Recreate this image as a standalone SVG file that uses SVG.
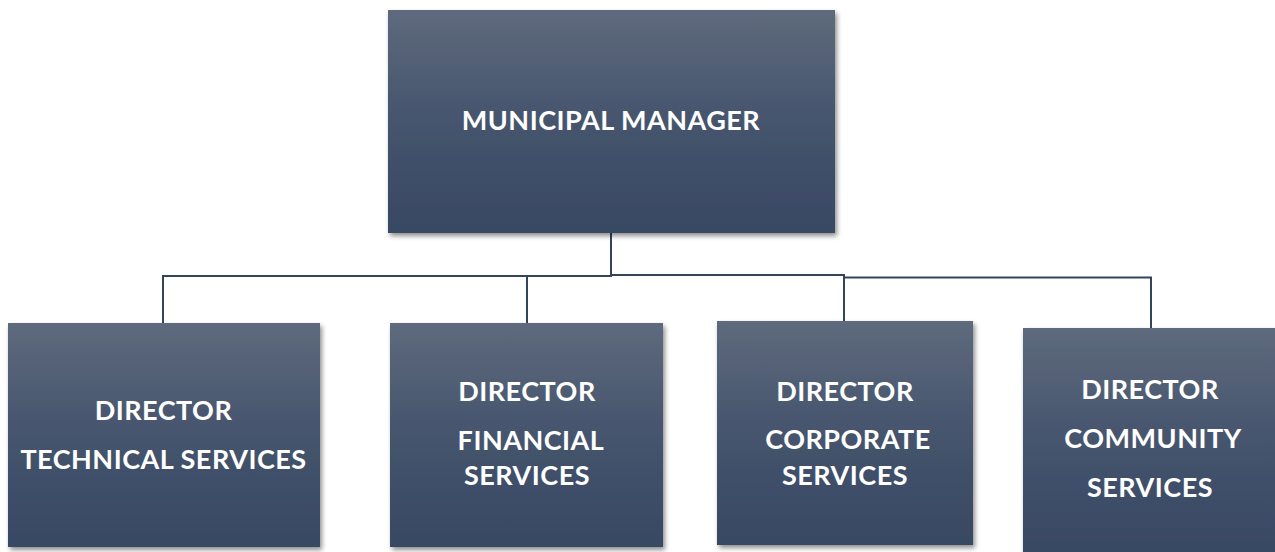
<svg xmlns="http://www.w3.org/2000/svg" width="1275" height="552" viewBox="0 0 1275 552">
<defs>
<linearGradient id="g" x1="0" y1="0" x2="0" y2="1">
<stop offset="0" stop-color="#5e6a7c"/>
<stop offset="0.5" stop-color="#45546d"/>
<stop offset="1" stop-color="#384863"/>
</linearGradient>
<filter id="sh" x="-5%" y="-5%" width="112%" height="115%">
<feGaussianBlur in="SourceAlpha" stdDeviation="2.5"/>
<feOffset dx="2" dy="3" result="b"/>
<feComponentTransfer><feFuncA type="linear" slope="0.45"/></feComponentTransfer>
<feMerge><feMergeNode/><feMergeNode in="SourceGraphic"/></feMerge>
</filter>
</defs>
<style>
.box{fill:url(#g);filter:url(#sh);}
.t{font-family:Lato,"Open Sans","Liberation Sans",sans-serif;font-weight:bold;font-size:27px;letter-spacing:0.5px;fill:#ffffff;text-anchor:middle;}
.c{fill:none;stroke:#34445a;stroke-width:2;}
</style>
<g id="connectors">
<path class="c" d="M611,233 V276 H163 V323"/>
<path class="c" d="M527,276 V323"/>
<path class="c" d="M611,275 H844 V321"/>
<path class="c" d="M844,277.5 H1151 V328" stroke-width="1.5"/>
</g>
<g id="municipal-manager">
<rect class="box" x="388" y="10" width="447" height="223"/>
<text class="t" x="611" y="130">MUNICIPAL MANAGER</text>
</g>
<g id="director-technical">
<rect class="box" x="8" y="323" width="312" height="224"/>
<text class="t" x="163.5" y="420">DIRECTOR</text>
<text class="t" x="163.5" y="469">TECHNICAL SERVICES</text>
</g>
<g id="director-financial">
<rect class="box" x="390" y="323" width="273" height="224"/>
<text class="t" x="527" y="401">DIRECTOR</text>
<text class="t" x="531" y="450">FINANCIAL</text>
<text class="t" x="527" y="485">SERVICES</text>
</g>
<g id="director-corporate">
<rect class="box" x="717" y="321" width="256" height="224"/>
<text class="t" x="845" y="401">DIRECTOR</text>
<text class="t" x="848" y="449">CORPORATE</text>
<text class="t" x="845" y="485">SERVICES</text>
</g>
<g id="director-community">
<rect class="box" x="1023" y="328" width="254" height="226"/>
<text class="t" x="1150" y="399">DIRECTOR</text>
<text class="t" x="1153" y="448">COMMUNITY</text>
<text class="t" x="1150" y="497">SERVICES</text>
</g>
</svg>
